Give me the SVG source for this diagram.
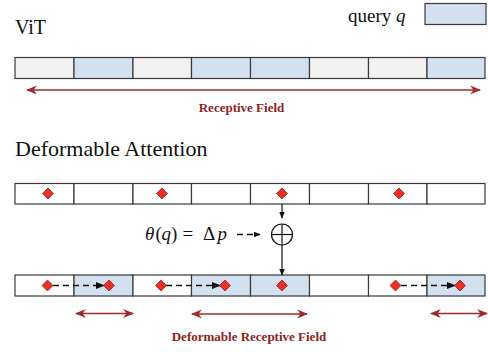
<svg xmlns="http://www.w3.org/2000/svg" width="488" height="352" viewBox="0 0 488 352">
  <defs>
    <style>
      .cell { stroke: #3a3a3a; stroke-width: 1.2; }
      .gray { fill: #f2f2f2; }
      .blue { fill: #d3e0f0; }
      .white { fill: #ffffff; }
      .title { font-family: "Liberation Serif", "Times New Roman", serif; fill: #111; }
      .math { font-family: "Liberation Serif", "Times New Roman", serif; font-size: 19px; fill: #111; }
      .it { font-style: italic; }
      .field { font-family: "Liberation Serif", "Times New Roman", serif; font-weight: bold; font-size: 13px; fill: #8e1f1f; text-anchor: middle; }
      .span { stroke: #a02a2a; stroke-width: 1.5; fill: none; }
      .link { stroke: #111; stroke-width: 1.2; fill: none; }
      .dash { stroke: #111; stroke-width: 1.4; fill: none; stroke-dasharray: 6 4; }
      .pt { fill: #e53228; stroke: #b01e18; stroke-width: 0.8; }
    </style>
    <marker id="red-head" viewBox="0 0 10 10" refX="9" refY="5" markerWidth="11" markerHeight="11" markerUnits="userSpaceOnUse" orient="auto-start-reverse">
      <path d="M0,1 L10,5 L0,9 L3,5 Z" fill="#a02a2a"/>
    </marker>
    <marker id="black-head" viewBox="0 0 10 10" refX="9" refY="5" markerWidth="7" markerHeight="7" markerUnits="userSpaceOnUse" orient="auto">
      <path d="M0,1 L10,5 L0,9 Z" fill="#111"/>
    </marker>
    <marker id="shift-head" viewBox="0 0 10 10" refX="9" refY="5" markerWidth="9" markerHeight="9" markerUnits="userSpaceOnUse" orient="auto">
      <path d="M0,1 L10,5 L0,9 Z" fill="#111"/>
    </marker>
    <path id="diamond" d="M0,-5.5 L5.5,0 L0,5.5 L-5.5,0 Z"/>
  </defs>

  <!-- legend -->
  <g id="legend">
    <text class="title" x="348" y="22" font-size="19">query <tspan class="it">q</tspan></text>
    <rect class="cell blue" x="425" y="3.5" width="61" height="21"/>
  </g>

  <!-- ViT row -->
  <g id="vit">
    <text class="title" x="15" y="34" font-size="20">ViT</text>
    <rect class="cell gray" x="15" y="57.5" width="59" height="21"/>
    <rect class="cell blue" x="74" y="57.5" width="59" height="21"/>
    <rect class="cell gray" x="133" y="57.5" width="58.5" height="21"/>
    <rect class="cell blue" x="191.5" y="57.5" width="59" height="21"/>
    <rect class="cell blue" x="250.5" y="57.5" width="59" height="21"/>
    <rect class="cell gray" x="309.5" y="57.5" width="59" height="21"/>
    <rect class="cell gray" x="368.5" y="57.5" width="58.5" height="21"/>
    <rect class="cell blue" x="427" y="57.5" width="58" height="21"/>
  </g>

  <g id="vit-field">
    <text class="field" x="241.5" y="112">Receptive Field</text>
  </g>

  <!-- Deformable attention: reference points -->
  <g id="deform-title">
    <text class="title" x="15" y="156" font-size="22">Deformable Attention</text>
  </g>

  <g id="ref-row">
    <rect class="cell white" x="15" y="183.5" width="59" height="20.5"/>
    <rect class="cell white" x="74" y="183.5" width="59" height="20.5"/>
    <rect class="cell white" x="133" y="183.5" width="58.5" height="20.5"/>
    <rect class="cell white" x="191.5" y="183.5" width="59" height="20.5"/>
    <rect class="cell white" x="250.5" y="183.5" width="59" height="20.5"/>
    <rect class="cell white" x="309.5" y="183.5" width="59" height="20.5"/>
    <rect class="cell white" x="368.5" y="183.5" width="58.5" height="20.5"/>
    <rect class="cell white" x="427" y="183.5" width="58" height="20.5"/>
    <use href="#diamond" class="pt" x="48" y="193.5"/>
    <use href="#diamond" class="pt" x="162" y="193.5"/>
    <use href="#diamond" class="pt" x="282" y="193.5"/>
    <use href="#diamond" class="pt" x="399" y="193.5"/>
  </g>

  <g id="offset">
    <text class="math" y="240"><tspan class="it" x="145">θ</tspan><tspan x="155.5">(</tspan><tspan class="it" x="161.5">q</tspan><tspan x="171">)</tspan><tspan x="182.5">=</tspan><tspan x="203">Δ</tspan><tspan class="it" x="217.5">p</tspan></text>
  </g>

  <g id="sum">
    <circle cx="282" cy="234.5" r="10.5" fill="#fff" stroke="#111" stroke-width="1.2"/>
    <line x1="271.5" y1="234.5" x2="292.5" y2="234.5" stroke="#111" stroke-width="1.2"/>
    <line x1="282" y1="224" x2="282" y2="245" stroke="#111" stroke-width="1.2"/>
  </g>

  <!-- sampled row -->
  <g id="sample-row">
    <rect class="cell white" x="15" y="275" width="59" height="21"/>
    <rect class="cell blue" x="74" y="275" width="59" height="21"/>
    <rect class="cell white" x="133" y="275" width="58.5" height="21"/>
    <rect class="cell blue" x="191.5" y="275" width="59" height="21"/>
    <rect class="cell blue" x="250.5" y="275" width="59" height="21"/>
    <rect class="cell white" x="309.5" y="275" width="59" height="21"/>
    <rect class="cell white" x="368.5" y="275" width="58.5" height="21"/>
    <rect class="cell blue" x="427" y="275" width="58" height="21"/>
  </g>

  <g id="deform-field">
    <text class="field" x="249" y="341">Deformable Receptive Field</text>
  </g>

  <!-- connectors -->
  <g id="connectors">
    <line class="span" x1="27" y1="90" x2="480" y2="90" marker-start="url(#red-head)" marker-end="url(#red-head)"/>
    <line class="link" x1="282" y1="204" x2="282" y2="218" marker-end="url(#black-head)"/>
    <line class="link" x1="282" y1="245" x2="282" y2="275" marker-end="url(#black-head)"/>
    <line class="dash" x1="237" y1="234.5" x2="260" y2="234.5" stroke-dasharray="3 3" stroke-width="1.1" marker-end="url(#black-head)"/>
    <line class="dash" x1="53" y1="285.5" x2="104" y2="285.5" marker-end="url(#shift-head)"/>
    <line class="dash" x1="166" y1="285.5" x2="220" y2="285.5" marker-end="url(#shift-head)"/>
    <line class="dash" x1="401" y1="285.5" x2="455" y2="285.5" marker-end="url(#shift-head)"/>
    <line class="span" x1="76" y1="313.5" x2="133" y2="313.5" marker-start="url(#red-head)" marker-end="url(#red-head)"/>
    <line class="span" x1="192" y1="314" x2="307" y2="314" marker-start="url(#red-head)" marker-end="url(#red-head)"/>
    <line class="span" x1="431" y1="313.5" x2="487" y2="313.5" marker-start="url(#red-head)" marker-end="url(#red-head)"/>
  </g>

  <!-- sampled points drawn over the offset lines -->
  <g id="sample-points">
    <use href="#diamond" class="pt" x="47.5" y="285.5"/>
    <use href="#diamond" class="pt" x="109" y="285.5"/>
    <use href="#diamond" class="pt" x="161" y="285.5"/>
    <use href="#diamond" class="pt" x="225" y="285.5"/>
    <use href="#diamond" class="pt" x="282" y="285.5"/>
    <use href="#diamond" class="pt" x="395.5" y="285.5"/>
    <use href="#diamond" class="pt" x="460" y="285.5"/>
  </g>
</svg>
